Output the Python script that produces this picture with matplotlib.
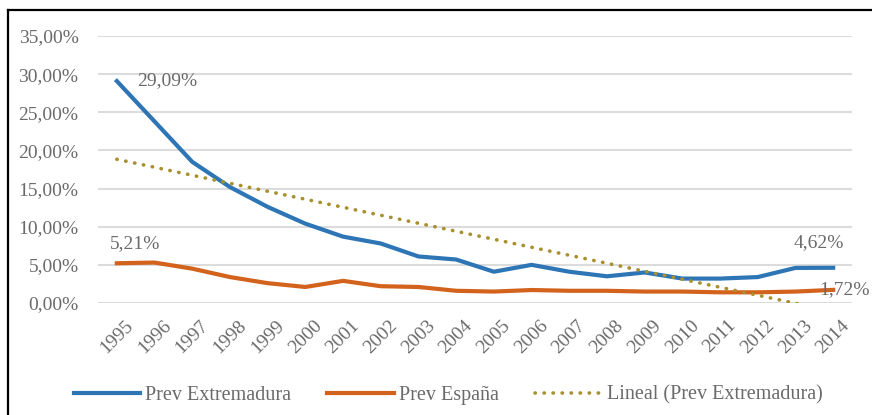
import numpy as np
import matplotlib
matplotlib.use("Agg")
import matplotlib.pyplot as plt
from matplotlib.lines import Line2D
from matplotlib.ticker import FuncFormatter

years = [str(y) for y in range(1995, 2015)]
prev_extremadura = [29.09, 23.8, 18.5, 15.2, 12.6, 10.4, 8.7, 7.8, 6.1, 5.7,
                    4.1, 5.0, 4.1, 3.5, 4.0, 3.2, 3.2, 3.4, 4.6, 4.62]
prev_espana = [5.21, 5.3, 4.5, 3.4, 2.6, 2.1, 2.9, 2.2, 2.1, 1.6,
               1.5, 1.7, 1.6, 1.6, 1.5, 1.5, 1.4, 1.4, 1.5, 1.72]
y_ticks = [0, 5, 10, 15, 20, 25, 30, 35]

BLUE = "#2E75B6"
ORANGE = "#D2621C"
TREND = "#A8902E"
TEXT = "#6a6a6a"
GRID = "#DCDCDC"
FS = 14

plt.rcParams["font.family"] = ["Liberation Serif", "DejaVu Serif"]

fig = plt.figure(figsize=(8.72, 4.15), dpi=100)
ax = fig.add_axes([98 / 872, 1 - 303 / 415, (852 - 98) / 872, (303 - 36) / 415])

x = np.arange(len(years))
ext = np.array(prev_extremadura)
esp = np.array(prev_espana)

# least-squares trend of the Extremadura series
slope, intercept = np.polyfit(x, ext, 1)
trend = slope * x + intercept

ax.plot(x, ext, color=BLUE, lw=3.0, solid_joinstyle="round", zorder=3,
        label="Prev Extremadura")
ax.plot(x, esp, color=ORANGE, lw=3.0, solid_joinstyle="round", zorder=3,
        label="Prev España")
ax.plot(x, trend, color=TREND, lw=2.6, linestyle=(0, (0.1, 2.4)),
        dash_capstyle="round", zorder=4, label="Lineal (Prev Extremadura)")

ax.set_xlim(-0.5, len(years) - 0.5)
ax.set_ylim(0, 35)
ax.set_yticks(y_ticks)
ax.yaxis.set_major_formatter(FuncFormatter(lambda v, p: f"{v:.2f}%".replace(".", ",")))
ax.set_xticks(x)
ax.set_xticklabels(years, rotation=45, ha="center", va="top")

ax.grid(axis="y", color=GRID, lw=1.5)
ax.set_axisbelow(True)
for s in ax.spines.values():
    s.set_visible(False)
ax.tick_params(axis="both", length=0, colors=TEXT, labelsize=FS)
ax.tick_params(axis="y", pad=14)
ax.tick_params(axis="x", pad=10)

lab_kw = dict(textcoords="offset pixels", color=TEXT, fontsize=FS,
              annotation_clip=False, zorder=5)
ax.annotate(f"{ext[0]:.2f}%".replace(".", ","), (0, ext[0]), xytext=(20, 0),
            ha="left", va="center", **lab_kw)
ax.annotate(f"{esp[0]:.2f}%".replace(".", ","), (0, esp[0]), xytext=(18, 20),
            ha="center", va="center", **lab_kw)
ax.annotate(f"{ext[-1]:.2f}%".replace(".", ","), (x[-1], ext[-1]), xytext=(-14, 25),
            ha="center", va="center", **lab_kw)
ax.annotate(f"{esp[-1]:.2f}%".replace(".", ","), (x[-1], esp[-1]), xytext=(-14, 0),
            ha="left", va="center", **lab_kw)

leg = fig.legend(loc="center", bbox_to_anchor=(448 / 872, 1 - 395 / 415), ncol=3,
                 frameon=False, fontsize=14.5, handlelength=3.3, handletextpad=0.25,
                 columnspacing=1.8, labelcolor=TEXT)

# frame edges of the chart area
fig.add_artist(Line2D([8 / 872, 8 / 872], [0, 1 - 10 / 415], color="black", lw=1.6,
                      transform=fig.transFigure))
fig.add_artist(Line2D([8 / 872, 1], [1 - 10 / 415, 1 - 10 / 415], color="black", lw=1.6,
                      transform=fig.transFigure))

fig.savefig("out.png", dpi=100)
